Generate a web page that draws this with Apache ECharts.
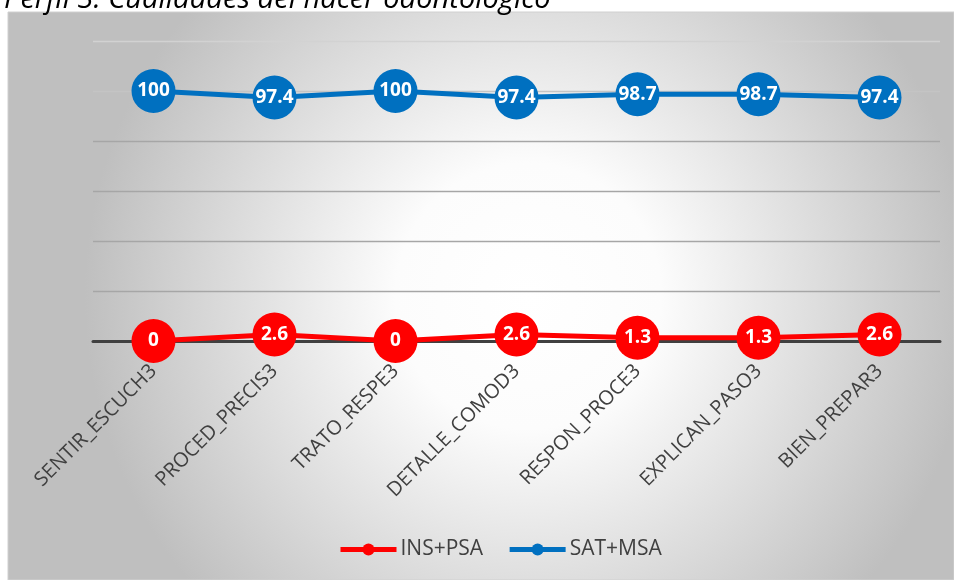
<!DOCTYPE html>
<html><head><meta charset="utf-8">
<script src="https://cdn.jsdelivr.net/npm/echarts@6/dist/echarts.min.js"></script>
<style>html,body{margin:0;padding:0;background:#fff}#c{width:954px;height:580px}</style>
</head><body><div id="c"></div>
<script>
var categories = ['SENTIR_ESCUCH3','PROCED_PRECIS3','TRATO_RESPE3','DETALLE_COMOD3','RESPON_PROCE3','EXPLICAN_PASO3','BIEN_PREPAR3'];
var insPsa = [0, 2.6, 0, 2.6, 1.3, 1.3, 2.6];
var satMsa = [100, 97.4, 100, 97.4, 98.7, 98.7, 97.4];
var seriesNames = ['INS+PSA', 'SAT+MSA'];
var titleText = 'Perfil 3: Cualidades del hacer odontológico';

var chart = echarts.init(document.getElementById('c'));
var font = '"Open Sans", Lato, sans-serif';
function mk(name, data, color) {
  return {
    name: name, type: 'line', data: data,
    symbol: 'circle', symbolSize: 44,
    lineStyle: {color: color, width: 5},
    itemStyle: {color: color},
    label: {show: true, position: 'inside', color: '#fff', fontWeight: 'bold', fontSize: 19, fontFamily: font},
    emphasis: {disabled: true}
  };
}
chart.setOption({
  animation: false,
  graphic: [{
    type: 'rect', z: -10, silent: true,
    shape: {x: 8, y: 12, width: 946, height: 568},
    style: {fill: new echarts.graphic.RadialGradient(0.55, 0.5, 0.78, [
      {offset: 0, color: '#ffffff'}, {offset: 0.3, color: '#fcfcfc'}, {offset: 1, color: '#bfbfbf'}
    ]), stroke: '#d0d0d0', lineWidth: 1}
  }],
  title: {text: titleText, left: -1, top: -20,
    textStyle: {fontFamily: font, fontStyle: 'italic', fontWeight: 'normal', fontSize: 29, color: '#000'}},
  legend: {bottom: 15, left: 333, itemWidth: 56, itemHeight: 15, itemGap: 24,
    lineStyle: {width: 5},
    textStyle: {fontFamily: font, fontSize: 21, color: '#404040', padding: [0, 0, 0, -1]},
    data: seriesNames},
  grid: {left: 93, right: 14, top: 41, bottom: 239, containLabel: false},
  xAxis: {type: 'category', data: categories, boundaryGap: true,
    axisLine: {lineStyle: {color: '#404040', width: 3}},
    axisTick: {show: false},
    axisLabel: {rotate: 45, fontFamily: font, fontSize: 20, color: '#404040', margin: 27, interval: 0}},
  yAxis: {type: 'value', min: 0, max: 120, interval: 20,
    axisLabel: {show: false}, axisLine: {show: false}, axisTick: {show: false},
    splitLine: {lineStyle: {color: ['#a6a6a6','#a6a6a6','#a6a6a6','#a6a6a6','#a6a6a6','#c4c4c4','#d2d2d2'], width: 1.3}}},
  series: [mk(seriesNames[0], insPsa, '#ff0000'), mk(seriesNames[1], satMsa, '#0070c0')]
});
</script></body></html>
